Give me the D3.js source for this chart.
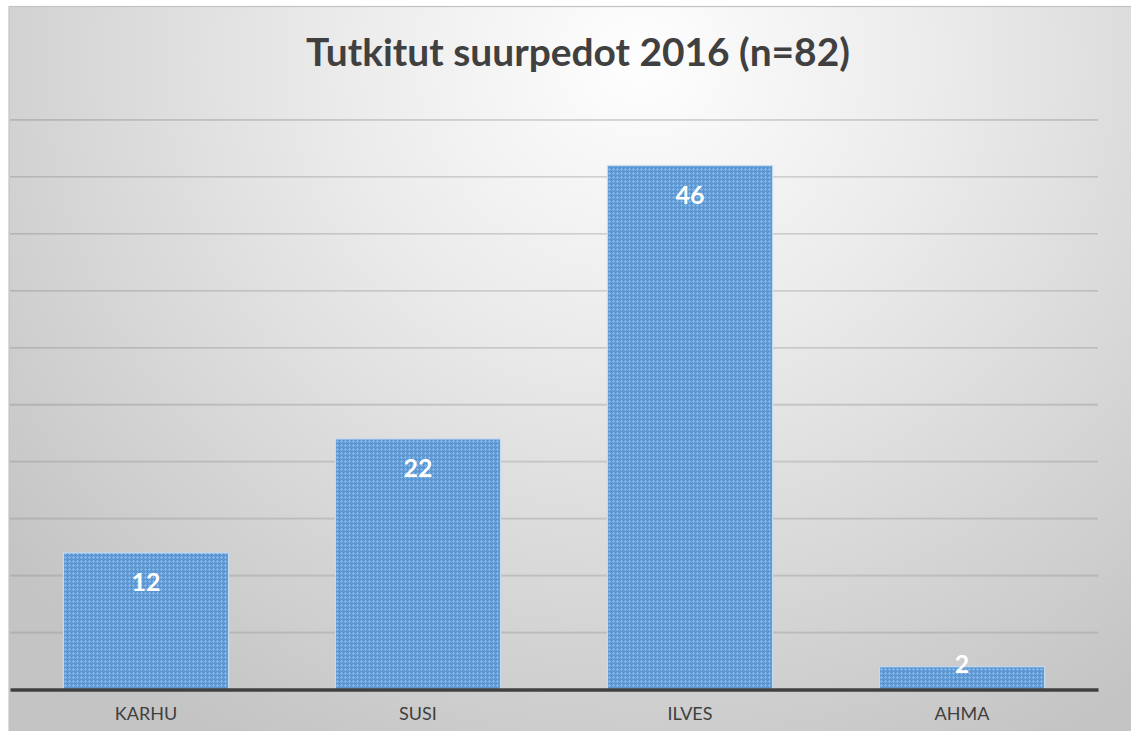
<!DOCTYPE html>
<html><head><meta charset="utf-8">
<script src="https://cdn.jsdelivr.net/npm/d3@7"></script>
<style>html,body{margin:0;padding:0;background:#fff;}svg{display:block;}</style>
</head><body>
<svg id="chart" width="1131" height="731"></svg>
<script>
const categories = ["KARHU", "SUSI", "ILVES", "AHMA"];
const values = [12, 22, 46, 2];
const yTicks = [0, 5, 10, 15, 20, 25, 30, 35, 40, 45, 50];
const titleText = "Tutkitut suurpedot 2016 (n=82)";

const W = 1131, H = 731;
const svg = d3.select("#chart");
const defs = svg.append("defs");

const bg = defs.append("radialGradient").attr("id","bg")
  .attr("gradientUnits","userSpaceOnUse").attr("cx",640).attr("cy",60).attr("r",820)
  .attr("gradientTransform","translate(640,60) scale(1,0.95) translate(-640,-60)");
bg.append("stop").attr("offset",0).attr("stop-color","#fefefe");
bg.append("stop").attr("offset",0.35).attr("stop-color","#ececec");
bg.append("stop").attr("offset",1).attr("stop-color","#c4c4c4");

const pat = defs.append("pattern").attr("id","tex").attr("patternUnits","userSpaceOnUse")
  .attr("width",4).attr("height",4);
pat.append("rect").attr("width",4).attr("height",4).attr("fill","#5a97d3");
pat.append("rect").attr("x",1).attr("y",0).attr("width",1).attr("height",3).attr("fill","#86b4e3");
pat.append("rect").attr("x",0).attr("y",1).attr("width",3).attr("height",1).attr("fill","#86b4e3");

// chart frame
svg.append("rect").attr("x",9).attr("y",6.5).attr("width",W).attr("height",H)
  .attr("fill","url(#bg)").attr("stroke","#c3c3c3").attr("stroke-width",1.2);

const plot = {left: 10, right: 1098, top: 120, bottom: 689.5};

const x = d3.scaleBand().domain(categories).range([plot.left, plot.right])
  .paddingInner(0.393).paddingOuter(0.1965);
const y = d3.scaleLinear().domain([0, 50]).range([plot.bottom, plot.top]);

// gridlines
const grid = svg.append("g");
grid.selectAll("line.g").data(yTicks.filter(d => d > 0)).join("line")
  .attr("x1", plot.left).attr("x2", plot.right)
  .attr("y1", d => y(d)).attr("y2", d => y(d))
  .attr("stroke","rgba(0,0,0,0.16)").attr("stroke-width",1.8);
grid.selectAll("line.h").data(yTicks.filter(d => d > 0)).join("line")
  .attr("x1", plot.left).attr("x2", plot.right)
  .attr("y1", d => y(d)+0.2).attr("y2", d => y(d)+0.2)
  .attr("stroke","rgba(255,255,255,0.35)").attr("stroke-width",0.6);

// bars
svg.append("g").selectAll("rect").data(values).join("rect")
  .attr("x", (d,i) => x(categories[i]))
  .attr("y", d => y(d))
  .attr("width", x.bandwidth())
  .attr("height", d => y(0) - y(d))
  .attr("fill","url(#tex)")
  .attr("stroke","#c6daf0").attr("stroke-width",1.2);

// axis (baseline and category labels)
const xAxis = d3.axisBottom(x).tickSize(0).tickPadding(18);
const ax = svg.append("g").attr("transform",`translate(0,${y(0)})`).call(xAxis);
ax.select(".domain").attr("stroke","#404040").attr("stroke-width",3.5);
ax.selectAll("text").attr("font-family","Lato, 'Open Sans', sans-serif")
  .attr("font-size",18).attr("fill","#404040");

// value labels
svg.append("g").selectAll("text").data(values).join("text")
  .attr("x", (d,i) => x(categories[i]) + x.bandwidth()/2)
  .attr("y", d => Math.min(y(d) + 38, y(0) - 17))
  .attr("text-anchor","middle")
  .attr("font-family","Lato, 'Open Sans', sans-serif").attr("font-weight","bold")
  .attr("font-size",25).attr("fill","#ffffff")
  .text(d => d);

// title
const t = svg.append("text").attr("x",578).attr("y",66)
  .attr("text-anchor","middle")
  .attr("font-family","Lato, 'Open Sans', sans-serif").attr("font-weight","bold")
  .attr("font-size",40).attr("fill","#404040").text(titleText);
const len = t.node().getComputedTextLength();
t.attr("font-size", 40 * 544 / len);
</script>
</body></html>
